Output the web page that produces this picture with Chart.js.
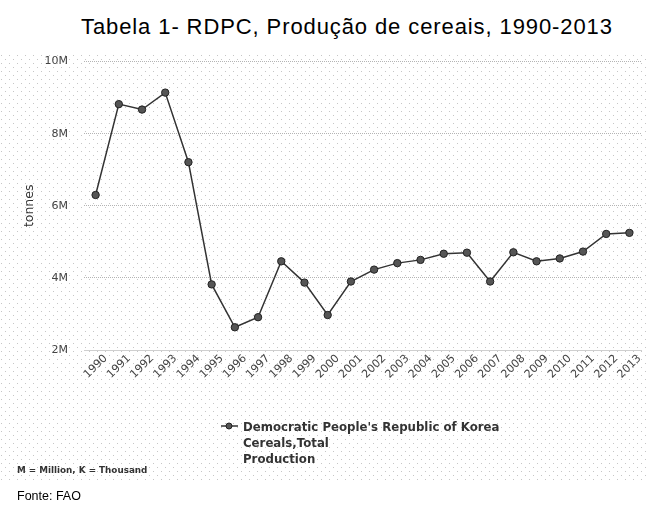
<!DOCTYPE html>
<html lang="pt">
<head>
    <meta charset="UTF-8">
    <title>Tabela 1- RDPC, Produção de cereais, 1990-2013</title>
    <script src="https://cdn.jsdelivr.net/npm/chart.js"></script>
    <style>
        body { margin: 0; background: #fff; }
        #wrap { position: relative; width: 648px; height: 515px; overflow: hidden; }
        #title { position: absolute; left: 81px; top: 16px; font: 22px "Liberation Sans", Arial, sans-serif; letter-spacing: 0.9px; line-height: 22px; color: #000; white-space: nowrap; }
        #box { position: absolute; left: 0; top: 39px; width: 648px; height: 443px; }
        #legend { position: absolute; left: 221px; top: 419px; font: bold 11.75px "DejaVu Sans", sans-serif; line-height: 16px; color: #333; }
        #legend svg { position: absolute; left: 0; top: 2px; }
        #legend .txt { position: absolute; left: 22px; top: 0; white-space: nowrap; }
        #units { position: absolute; left: 17px; top: 465px; font: bold 8.8px "DejaVu Sans", sans-serif; line-height: 10px; color: #333; white-space: nowrap; }
        #source { position: absolute; left: 17px; top: 489px; font: 12.5px "Liberation Sans", Arial, sans-serif; line-height: 14px; color: #000; }
    </style>
</head>
<body>
<div id="wrap">
    <div id="title">Tabela 1- RDPC, Produção de cereais, 1990-2013</div>
    <div id="box"><canvas id="chart"></canvas></div>
    <div id="legend">
        <svg width="18" height="10"><line x1="0" y1="5" x2="17" y2="5" stroke="#333" stroke-width="1.5"/><circle cx="8" cy="5" r="3" fill="#555" stroke="#222"/></svg>
        <div class="txt" id="legendText"></div>
    </div>
    <div id="units">M = Million, K = Thousand</div>
    <div id="source">Fonte: FAO</div>
</div>
<script>
// data (tonnes)
const years = ['1990', '1991', '1992', '1993', '1994', '1995', '1996', '1997', '1998', '1999', '2000', '2001',
               '2002', '2003', '2004', '2005', '2006', '2007', '2008', '2009', '2010', '2011', '2012', '2013'];
const production = [6.30e6, 8.82e6, 8.67e6, 9.14e6, 7.21e6, 3.82e6, 2.63e6, 2.91e6, 4.46e6, 3.87e6, 2.97e6, 3.90e6,
                    4.23e6, 4.41e6, 4.50e6, 4.67e6, 4.70e6, 3.90e6, 4.71e6, 4.46e6, 4.54e6, 4.73e6, 5.22e6, 5.25e6];
const seriesLines = ["Democratic People's Republic of Korea", 'Cereals,Total', 'Production'];
const yTicks = [2e6, 4e6, 6e6, 8e6, 10e6];

document.getElementById('legendText').innerHTML = seriesLines.join('<br>');

// light dotted backdrop (canvas starts at page y 39)
const dots = {
    id: 'dots',
    beforeDraw(chart) {
        const c = chart.ctx;
        c.save();
        c.fillStyle = '#c6c6c6';
        let row = 0;
        for (let y = 16; y <= 440; y += 4, row++) {
            for (let x = (row % 2) * 4 + 1; x < chart.width; x += 8) c.fillRect(x, y, 1, 1);
        }
        c.restore();
    }
};

const ctx = document.getElementById('chart').getContext('2d');
new Chart(ctx, {
    type: 'line',
    data: {
        labels: years,
        datasets: [{
            label: seriesLines.join(' '),
            data: production,
            borderColor: '#333',
            borderWidth: 1.5,
            backgroundColor: '#555',
            pointBorderColor: '#222',
            pointBorderWidth: 1,
            pointRadius: 3.7,
            tension: 0
        }]
    },
    options: {
        responsive: true,
        maintainAspectRatio: false,
        animation: false,
        layout: { padding: { top: 10, right: 7, left: 0, bottom: 0 } },
        plugins: { legend: { display: false }, tooltip: { enabled: false } },
        scales: {
            x: {
                offset: true,
                grid: { display: false, drawTicks: false },
                border: { color: '#cfcfcf' },
                ticks: { autoSkip: false, minRotation: 45, maxRotation: 45, labelOffset: 10, padding: 2, color: '#444', font: { family: 'DejaVu Sans', size: 11 } },
                afterFit(s) { s.height = 132; }
            },
            y: {
                min: 2e6, max: 10e6,
                afterBuildTicks(s) { s.ticks = yTicks.map(v => ({ value: v })); },
                grid: { color: '#b4b4b4', drawTicks: false },
                border: { display: false, dash: [1, 1] },
                ticks: { padding: 16, color: '#444', font: { family: 'DejaVu Sans', size: 11 }, callback: v => (v / 1e6) + 'M' },
                title: { display: true, text: 'tonnes', color: '#333', font: { family: 'DejaVu Sans', size: 12.5 }, padding: { top: 22, bottom: 0 } },
                afterFit(s) { s.width = 84; }
            }
        }
    },
    plugins: [dots]
});
</script>
</body>
</html>
